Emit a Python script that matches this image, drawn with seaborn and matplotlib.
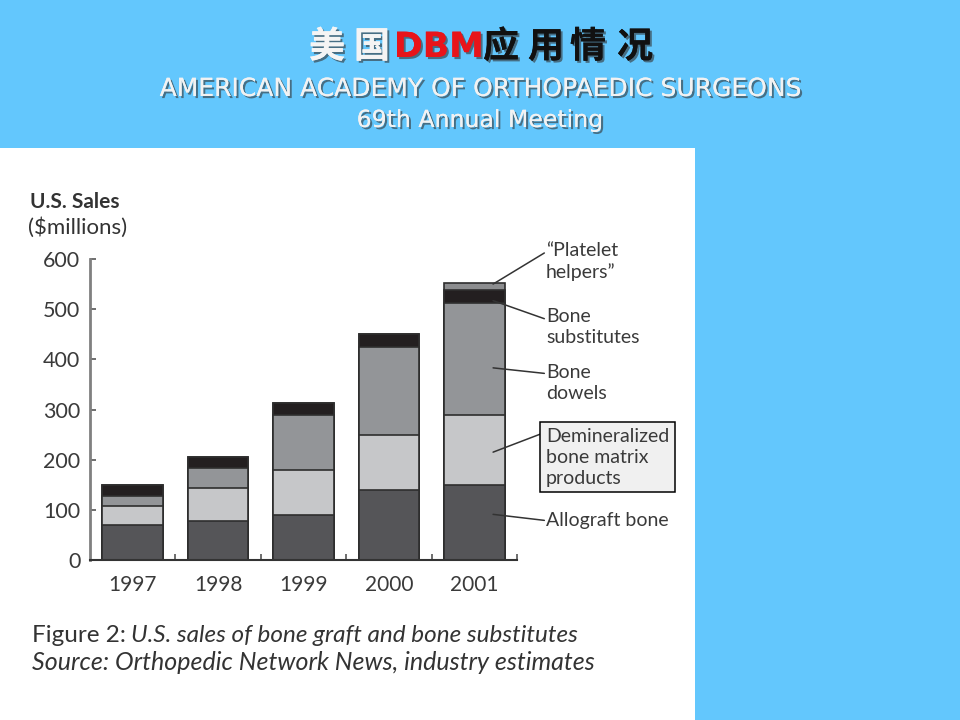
import numpy as np
import pandas as pd
import matplotlib
matplotlib.use('Agg')
import matplotlib.pyplot as plt
import matplotlib.patheffects as pe
from matplotlib.patches import Rectangle
import seaborn as sns

# data (US sales, $ millions)
years = ['1997', '1998', '1999', '2000', '2001']
allograft = [70, 78, 90, 140, 149]
dbm = [38, 66, 90, 109, 141]
dowels = [19, 40, 110, 175, 222]
substitutes = [22, 22, 23, 27, 26]
platelet = [0, 0, 0, 0, 14]

layer_names = ['Allograft bone', 'Demineralized\nbone matrix\nproducts', 'Bone\ndowels',
               'Bone\nsubstitutes', '\u201cPlatelet\nhelpers\u201d']
layer_colors = ['#555558', '#c6c7c9', '#939598', '#231f20', '#8c8d8f']

sns.set_theme(style='white')
plt.rcParams['font.family'] = ['Lato', 'DejaVu Sans']

BLUE = '#63c7fd'
fig = plt.figure(figsize=(9.6, 7.2), dpi=100, facecolor=BLUE)

# white panel holding the scanned figure
fig.patches.append(Rectangle((0, 0), 695 / 960, 1 - 148 / 720, transform=fig.transFigure,
                             facecolor='white', edgecolor='none', zorder=-5))

ax = fig.add_axes([90 / 960, 1 - 560 / 720, 427 / 960, 301 / 720])
ax.set_facecolor('none')
ax.set_zorder(2)

df = pd.DataFrame({'year': years, 'a': allograft, 'b': dbm, 'c': dowels,
                   'd': substitutes, 'e': platelet})
cum = df[['a', 'b', 'c', 'd', 'e']].cumsum(axis=1)

# stacked bars: draw cumulative totals from the top layer down
for col, color in zip(['e', 'd', 'c', 'b', 'a'], layer_colors[::-1]):
    sns.barplot(x=df['year'], y=cum[col], color=color, width=0.71, edgecolor='#2e2e2e',
                linewidth=1.2, saturation=1, ax=ax)

ax.set_xlim(-0.5, 4.5)
ax.set_ylim(0, 600)
ax.set_xlabel('')
ax.set_ylabel('')
ax.set_yticks([0, 100, 200, 300, 400, 500, 600])
ax.set_xticks(range(5))
ax.set_xticklabels(years)
ax.set_xticks([0.5, 1.5, 2.5, 3.5, 4.5], minor=True)
ax.tick_params(axis='y', direction='in', length=4, width=1.2, color='#555', left=True,
               labelsize=15.5, labelcolor='#3a3a3a', pad=7)
ax.tick_params(axis='x', which='major', length=0, labelsize=15, labelcolor='#3a3a3a', pad=11)
ax.tick_params(axis='x', which='minor', direction='in', length=4, width=1.2, color='#555',
               bottom=True)
for s in ['top', 'right']:
    ax.spines[s].set_visible(False)
ax.spines['left'].set_color('#808080')
ax.spines['left'].set_linewidth(2)
ax.spines['bottom'].set_color('#333333')
ax.spines['bottom'].set_linewidth(1.5)

# right-hand labels with leader lines: (start on bar, end at label, label centre, layer)
lab_x = 4.84
anns = [
    ((4.22, 550), 612, 596, 4),
    ((4.22, 517), 481, 464, 3),
    ((4.22, 383), 372, 352, 2),
    ((4.22, 215), 254, 205, 1),
    ((4.22, 91), 79, 79, 0),
]
for xy, yend, ty, i in anns:
    ax.annotate('', xy=xy, xytext=(lab_x - 0.02, yend), annotation_clip=False,
                arrowprops=dict(arrowstyle='-', color='#333', lw=1.1, shrinkA=0, shrinkB=0))
    kw = dict(fontsize=14, color='#3a3a3a', va='center', ha='left',
              linespacing=1.28, clip_on=False)
    if i == 1:
        ax.text(lab_x, ty, layer_names[i], bbox=dict(boxstyle='square,pad=0.3',
                facecolor='#f0f0f0', edgecolor='black', linewidth=1.1), **kw)
    else:
        ax.text(lab_x, ty, layer_names[i], **kw)

# y axis title
fig.text(30 / 960, 1 - 202 / 720, 'U.S. Sales', fontsize=15, fontweight='bold',
         color='#333', va='center', ha='left')
fig.text(28 / 960, 1 - 228 / 720, '($millions)', fontsize=16, color='#333',
         va='center', ha='left')

# caption
t1 = fig.text(32 / 960, 1 - 635 / 720, 'Figure 2:', fontsize=17.5, color='#333', va='center')
plt.annotate('U.S. sales of bone graft and bone substitutes', xy=(1, 0.5), xycoords=t1,
             xytext=(4, 0), textcoords='offset points', fontsize=17.5, style='italic',
             color='#333', va='center', annotation_clip=False)
fig.text(32 / 960, 1 - 663 / 720, 'Source: Orthopedic Network News, industry estimates',
         fontsize=18, style='italic', color='#333', va='center')

# slide header
shadow = [pe.withSimplePatchShadow(offset=(1.5, -1.5), shadow_rgbFace='#333', alpha=0.6),
          pe.Normal()]
cjk = ['Noto Sans CJK SC', 'DejaVu Sans']
title_parts = [('美', 327, '#f4f4f4'), ('国', 372, '#f4f4f4'),
               ('应', 501, '#111111'), ('用', 546, '#111111'),
               ('情', 588, '#111111'), ('况', 635, '#111111')]
for ch, px, col in title_parts:
    fig.text(px / 960, 1 - 47 / 720, ch, family=cjk, fontsize=26, fontweight='bold',
             color=col, ha='center', va='center', path_effects=shadow)
fig.text(439 / 960, 1 - 47 / 720, 'DBM', family=['DejaVu Sans'], fontsize=25,
         fontweight='bold', color='#e8141a', ha='center', va='center', path_effects=shadow)
fig.text(481 / 960, 1 - 89 / 720, 'AMERICAN ACADEMY OF ORTHOPAEDIC SURGEONS',
         family=['DejaVu Sans'], fontsize=18, color='#f2f2f2', ha='center', va='center',
         path_effects=shadow)
fig.text(480 / 960, 1 - 120 / 720, '69th Annual Meeting', family=['DejaVu Sans'],
         fontsize=17, color='#f2f2f2', ha='center', va='center', path_effects=shadow)

fig.savefig('out.png', dpi=100, facecolor=BLUE)
